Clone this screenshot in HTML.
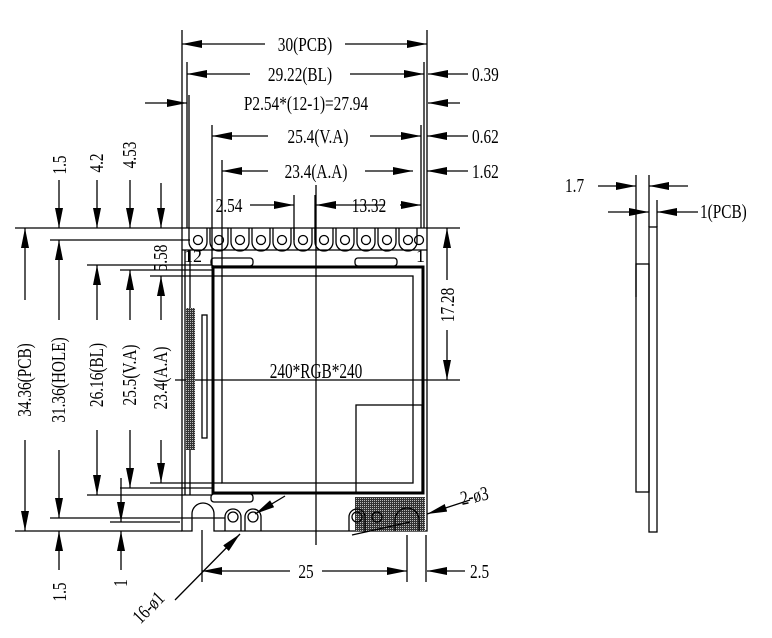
<!DOCTYPE html>
<html><head><meta charset="utf-8"><style>
html,body{margin:0;padding:0;background:#fff;}
svg{display:block}
text{font-family:"Liberation Serif",serif;font-size:18px;fill:#000}
</style></head><body>
<svg width="772" height="638" viewBox="0 0 772 638" xmlns="http://www.w3.org/2000/svg">
<defs>
<marker id="a" viewBox="0 0 20 8" refX="20" refY="4" markerWidth="20" markerHeight="8" markerUnits="userSpaceOnUse" orient="auto"><path d="M0,0 L20,4 L0,8 Z" fill="#000"/></marker>
<pattern id="h" width="2" height="2" patternUnits="userSpaceOnUse"><rect width="2" height="2" fill="#333"/><rect width="1" height="1" fill="#bbb"/></pattern>
</defs>
<g stroke="#000" stroke-width="1.3" fill="none">
<line x1="182" y1="30" x2="182" y2="228"/>
<line x1="427" y1="30" x2="427" y2="228"/>
<line x1="187" y1="62" x2="187" y2="228"/>
<line x1="424" y1="62" x2="424" y2="228"/>
<line x1="421" y1="125" x2="421" y2="228"/>
<line x1="212" y1="125" x2="212" y2="268"/>
<line x1="222" y1="160" x2="222" y2="276"/>
<line x1="189" y1="95" x2="189" y2="228"/>
<line x1="265" y1="44" x2="182" y2="44" marker-end="url(#a)"/>
<line x1="345" y1="44" x2="427" y2="44" marker-end="url(#a)"/>
<line x1="250" y1="74" x2="187" y2="74" marker-end="url(#a)"/>
<line x1="350" y1="74" x2="424" y2="74" marker-end="url(#a)"/>
<line x1="468" y1="74" x2="428" y2="74" marker-end="url(#a)"/>
<line x1="145" y1="103" x2="187" y2="103" marker-end="url(#a)"/>
<line x1="460" y1="103" x2="428" y2="103" marker-end="url(#a)"/>
<line x1="268" y1="136" x2="212" y2="136" marker-end="url(#a)"/>
<line x1="370" y1="136" x2="421" y2="136" marker-end="url(#a)"/>
<line x1="468" y1="136" x2="427" y2="136" marker-end="url(#a)"/>
<line x1="268" y1="171" x2="222" y2="171" marker-end="url(#a)"/>
<line x1="365" y1="171" x2="413" y2="171" marker-end="url(#a)"/>
<line x1="468" y1="171" x2="427" y2="171" marker-end="url(#a)"/>
<line x1="250" y1="205" x2="294" y2="205" marker-end="url(#a)"/>
<line x1="294" y1="195" x2="294" y2="240"/>
<line x1="315" y1="195" x2="315" y2="240"/>
<line x1="385" y1="205" x2="316" y2="205" marker-end="url(#a)"/>
<line x1="400" y1="205" x2="421" y2="205" marker-end="url(#a)"/>
<line x1="316" y1="185" x2="316" y2="545"/>
<line x1="175" y1="380" x2="460" y2="380"/>
<line x1="15" y1="228" x2="182" y2="228"/>
<line x1="50" y1="240" x2="190" y2="240"/>
<line x1="87" y1="265" x2="212" y2="265"/>
<line x1="120" y1="270" x2="212" y2="270"/>
<line x1="150" y1="276" x2="222" y2="276"/>
<line x1="150" y1="483" x2="222" y2="483"/>
<line x1="120" y1="488" x2="212" y2="488"/>
<line x1="87" y1="495" x2="212" y2="495"/>
<line x1="50" y1="518" x2="225" y2="518"/>
<line x1="110" y1="522" x2="180" y2="522"/>
<line x1="15" y1="531" x2="182" y2="531"/>
<line x1="25" y1="300" x2="25" y2="228" marker-end="url(#a)"/>
<line x1="25" y1="440" x2="25" y2="531" marker-end="url(#a)"/>
<line x1="59" y1="180" x2="59" y2="228" marker-end="url(#a)"/>
<line x1="59" y1="320" x2="59" y2="240" marker-end="url(#a)"/>
<line x1="59" y1="450" x2="59" y2="518" marker-end="url(#a)"/>
<line x1="59" y1="570" x2="59" y2="531" marker-end="url(#a)"/>
<line x1="97" y1="180" x2="97" y2="228" marker-end="url(#a)"/>
<line x1="97" y1="320" x2="97" y2="265" marker-end="url(#a)"/>
<line x1="97" y1="430" x2="97" y2="495" marker-end="url(#a)"/>
<line x1="130" y1="180" x2="130" y2="228" marker-end="url(#a)"/>
<line x1="130" y1="320" x2="130" y2="270" marker-end="url(#a)"/>
<line x1="130" y1="430" x2="130" y2="488" marker-end="url(#a)"/>
<line x1="121" y1="478" x2="121" y2="522" marker-end="url(#a)"/>
<line x1="121" y1="570" x2="121" y2="531" marker-end="url(#a)"/>
<line x1="161" y1="183" x2="161" y2="228" marker-end="url(#a)"/>
<line x1="161" y1="320" x2="161" y2="276" marker-end="url(#a)"/>
<line x1="161" y1="440" x2="161" y2="483" marker-end="url(#a)"/>
<line x1="447" y1="280" x2="447" y2="228" marker-end="url(#a)"/>
<line x1="447" y1="330" x2="447" y2="380" marker-end="url(#a)"/>
<line x1="427" y1="228" x2="460" y2="228"/>
<path d="M182,228 H427 V531 H214 V514 A11,11 0 0 0 192,514 V531 H182 Z"/>
<line x1="182" y1="250" x2="427" y2="250"/>
<line x1="185" y1="250" x2="185" y2="495"/>
<line x1="190" y1="250" x2="190" y2="495"/>
<g>
<path d="M189,228 V242 A9,9 0 0 0 207,242 V228"/>
<path d="M210,228 V242 A9,9 0 0 0 228,242 V228"/>
<path d="M231,228 V242 A9,9 0 0 0 249,242 V228"/>
<path d="M252,228 V242 A9,9 0 0 0 270,242 V228"/>
<path d="M273,228 V242 A9,9 0 0 0 291,242 V228"/>
<path d="M294,228 V242 A9,9 0 0 0 312,242 V228"/>
<path d="M315,228 V242 A9,9 0 0 0 333,242 V228"/>
<path d="M336,228 V242 A9,9 0 0 0 354,242 V228"/>
<path d="M357,228 V242 A9,9 0 0 0 375,242 V228"/>
<path d="M378,228 V242 A9,9 0 0 0 396,242 V228"/>
<path d="M399,228 V242 A9,9 0 0 0 417,242 V228"/>
<circle cx="198" cy="240" r="4.5"/><circle cx="219" cy="240" r="4.5"/><circle cx="240" cy="240" r="4.5"/><circle cx="261" cy="240" r="4.5"/><circle cx="282" cy="240" r="4.5"/><circle cx="303" cy="240" r="4.5"/><circle cx="324" cy="240" r="4.5"/><circle cx="345" cy="240" r="4.5"/><circle cx="366" cy="240" r="4.5"/><circle cx="387" cy="240" r="4.5"/><circle cx="408" cy="240" r="4.5"/><circle cx="419" cy="240" r="4.5"/>
</g>
<rect x="211" y="258" width="42" height="8" rx="3"/>
<rect x="355" y="258" width="42" height="8" rx="3"/>
<rect x="211" y="494" width="42" height="8" rx="3"/>
<rect x="213" y="267" width="210" height="226" stroke-width="3"/>
<rect x="222" y="276" width="191" height="207"/>
<rect x="356" y="405" width="66" height="88"/>
<rect x="202" y="315" width="5" height="123"/>
<rect x="186" y="308" width="9" height="142" fill="url(#h)" stroke="none"/>
<rect x="355" y="497" width="70" height="34" fill="url(#h)" stroke="none"/>
<circle cx="233" cy="517" r="5"/><path d="M225,531 V517 A8,8 0 0 1 241,517 V531"/>
<circle cx="253" cy="517" r="5"/><path d="M245,531 V517 A8,8 0 0 1 261,517 V531"/>
<circle cx="357" cy="517" r="5"/><path d="M349,531 V517 A8,8 0 0 1 365,517 V531"/>
<circle cx="377" cy="517" r="5"/>
<path d="M395,531 V520 A12,12 0 0 1 419,520 V531"/>
<line x1="202" y1="530" x2="202" y2="582"/>
<line x1="407" y1="535" x2="407" y2="582"/>
<line x1="426" y1="535" x2="426" y2="582"/>
<line x1="290" y1="571" x2="202" y2="571" marker-end="url(#a)"/>
<line x1="322" y1="571" x2="407" y2="571" marker-end="url(#a)"/>
<line x1="465" y1="571" x2="427" y2="571" marker-end="url(#a)"/>
<line x1="175" y1="600" x2="240" y2="534" marker-end="url(#a)"/>
<line x1="285" y1="496" x2="255" y2="514" marker-end="url(#a)"/>
<line x1="470" y1="500" x2="427" y2="514" marker-end="url(#a)"/>
<line x1="352" y1="535" x2="410" y2="522"/>
<line x1="636" y1="175" x2="636" y2="297"/>
<line x1="649" y1="175" x2="649" y2="227"/>
<line x1="657" y1="200" x2="657" y2="227"/>
<rect x="649" y="227" width="8" height="305"/>
<rect x="636" y="264" width="13" height="228"/>
<line x1="598" y1="186" x2="636" y2="186" marker-end="url(#a)"/>
<line x1="688" y1="186" x2="649" y2="186" marker-end="url(#a)"/>
<line x1="608" y1="212" x2="649" y2="212" marker-end="url(#a)"/>
<line x1="698" y1="212" x2="657" y2="212" marker-end="url(#a)"/>
</g>
<g>
<text transform="translate(305,51) scale(0.85,1.1)" text-anchor="middle">30(PCB)</text>
<text transform="translate(300,81) scale(0.85,1.1)" text-anchor="middle">29.22(BL)</text>
<text transform="translate(472,81) scale(0.85,1.1)">0.39</text>
<text transform="translate(306,110) scale(0.85,1.1)" text-anchor="middle">P2.54*(12-1)=27.94</text>
<text transform="translate(318,143) scale(0.85,1.1)" text-anchor="middle">25.4(V.A)</text>
<text transform="translate(472,143) scale(0.85,1.1)">0.62</text>
<text transform="translate(316,178) scale(0.85,1.1)" text-anchor="middle">23.4(A.A)</text>
<text transform="translate(472,178) scale(0.85,1.1)">1.62</text>
<text transform="translate(229,212) scale(0.85,1.1)" text-anchor="middle">2.54</text>
<text transform="translate(369,212) scale(0.85,1.1)" text-anchor="middle">13.32</text>
<text transform="translate(316,378) scale(0.85,1.2)" text-anchor="middle" font-size="22">240*RGB*240</text>
<text transform="translate(565,192) scale(0.85,1.1)">1.7</text>
<text transform="translate(700,218) scale(0.85,1.1)">1(PCB)</text>
<text transform="translate(306,578) scale(0.85,1.1)" text-anchor="middle">25</text>
<text transform="translate(470,578) scale(0.85,1.1)">2.5</text>
<text transform="translate(462,505) rotate(-12) scale(0.85,1.1)">2-ø3</text>
<text font-size="10" x="184" y="262">12</text>
<text font-size="10" x="416" y="262">1</text>
<text transform="translate(31,380) rotate(-90) scale(0.85,1.1)" text-anchor="middle">34.36(PCB)</text>
<text transform="translate(65,380) rotate(-90) scale(0.85,1.1)" text-anchor="middle">31.36(HOLE)</text>
<text transform="translate(103,375) rotate(-90) scale(0.85,1.1)" text-anchor="middle">26.16(BL)</text>
<text transform="translate(136,375) rotate(-90) scale(0.85,1.1)" text-anchor="middle">25.5(V.A)</text>
<text transform="translate(167,378) rotate(-90) scale(0.85,1.1)" text-anchor="middle">23.4(A.A)</text>
<text transform="translate(66,165) rotate(-90) scale(0.85,1.1)" text-anchor="middle">1.5</text>
<text transform="translate(103,163) rotate(-90) scale(0.85,1.1)" text-anchor="middle">4.2</text>
<text transform="translate(136,155) rotate(-90) scale(0.85,1.1)" text-anchor="middle">4.53</text>
<text transform="translate(167,258) rotate(-90) scale(0.85,1.1)" text-anchor="middle">5.58</text>
<text transform="translate(454,305) rotate(-90) scale(0.85,1.1)" text-anchor="middle">17.28</text>
<text transform="translate(66,592) rotate(-90) scale(0.85,1.1)" text-anchor="middle">1.5</text>
<text transform="translate(127,583) rotate(-90) scale(0.85,1.1)" text-anchor="middle">1</text>
<text transform="translate(153,612) rotate(-45) scale(0.85,1.1)" text-anchor="middle">16-ø1</text>
</g>
</svg>
</body></html>
